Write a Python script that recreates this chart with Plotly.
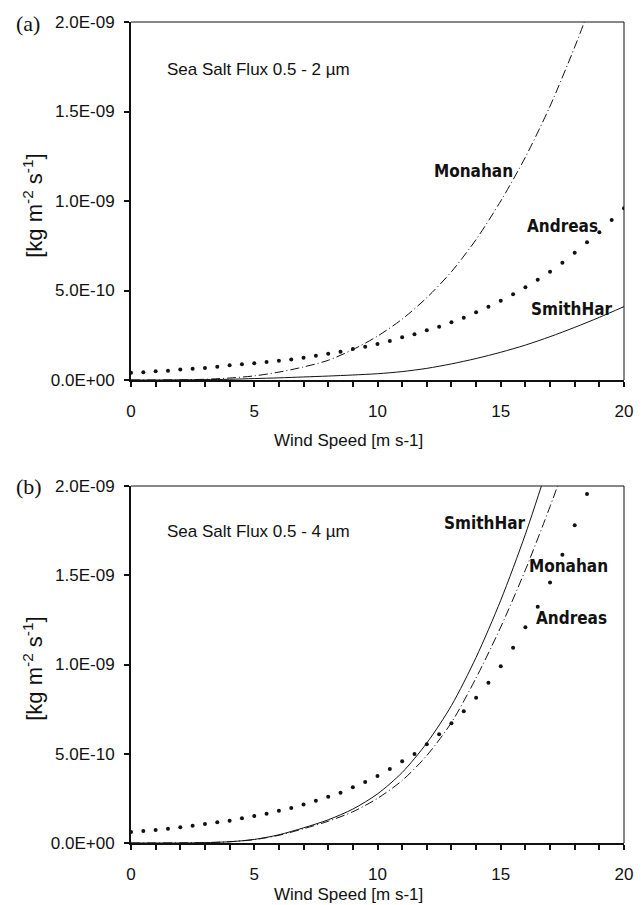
import plotly.graph_objects as go

# ---------------- data (flux in kg m-2 s-1) ----------------
ytick_vals = [0, 0.5e-9, 1.0e-9, 1.5e-9, 2.0e-9]
ytick_text = ["0.0E+00", "5.0E-10", "1.0E-09", "1.5E-09", "2.0E-09"]
xtick_vals = [0, 5, 10, 15, 20]
xtick_text = ["0", "5", "10", "15", "20"]

# Panel (a): 0.5 - 2 um   (values in 1E-09 kg m-2 s-1)
a_andreas_x = [0, 0.5, 1, 1.5, 2, 2.5, 3, 3.5, 4, 4.5, 5, 5.5, 6, 6.5, 7, 7.5, 8, 8.5, 9, 9.5,
               10, 10.5, 11, 11.5, 12, 12.5, 13, 13.5, 14, 14.5, 15, 15.5, 16, 16.5, 17, 17.5,
               18, 18.5, 19, 19.5, 20]
a_andreas_y = [0.040, 0.043, 0.049, 0.052, 0.058, 0.063, 0.067, 0.074, 0.082, 0.088, 0.093, 0.101,
               0.108, 0.115, 0.124, 0.136, 0.147, 0.158, 0.173, 0.186, 0.201, 0.218, 0.239, 0.255,
               0.278, 0.298, 0.322, 0.348, 0.378, 0.409, 0.443, 0.479, 0.518, 0.560, 0.605, 0.655,
               0.711, 0.769, 0.825, 0.894, 0.960]
a_monahan_x = [0, 1, 2, 3, 4, 5, 6, 7, 8, 9, 10, 11, 12, 13, 14, 15, 16, 17, 18, 18.5]
a_monahan_y = [0.0, 0.0001, 0.001, 0.004, 0.011, 0.023, 0.044, 0.073, 0.110, 0.170, 0.245, 0.340,
               0.460, 0.605, 0.785, 1.000, 1.245, 1.530, 1.860, 2.040]
a_smith_x = [0, 1, 2, 3, 4, 5, 6, 7, 8, 9, 10, 11, 12, 13, 14, 15, 16, 17, 18, 19, 20]
a_smith_y = [0.0, 0.0, 0.001, 0.002, 0.004, 0.008, 0.012, 0.017, 0.022, 0.028, 0.035, 0.047, 0.065,
             0.090, 0.120, 0.155, 0.195, 0.242, 0.294, 0.350, 0.410]

# Panel (b): 0.5 - 4 um
b_andreas_x = [0, 0.5, 1, 1.5, 2, 2.5, 3, 3.5, 4, 4.5, 5, 5.5, 6, 6.5, 7, 7.5, 8, 8.5, 9, 9.5,
               10, 10.5, 11, 11.5, 12, 12.5, 13, 13.5, 14, 14.5, 15, 15.5, 16, 16.5, 17, 17.5,
               18, 18.5]
b_andreas_y = [0.062, 0.067, 0.073, 0.080, 0.088, 0.097, 0.106, 0.116, 0.125, 0.138, 0.151, 0.164,
               0.181, 0.196, 0.215, 0.236, 0.259, 0.282, 0.312, 0.342, 0.375, 0.415, 0.458, 0.499,
               0.553, 0.609, 0.671, 0.738, 0.814, 0.898, 0.990, 1.094, 1.208, 1.324, 1.460, 1.615,
               1.780, 1.955]
b_monahan_x = [0, 1, 2, 3, 4, 5, 6, 7, 8, 9, 10, 11, 12, 13, 14, 15, 16, 17, 17.5]
b_monahan_y = [0.0, 0.0, 0.001, 0.002, 0.007, 0.019, 0.043, 0.080, 0.122, 0.175, 0.250, 0.350,
               0.490, 0.675, 0.925, 1.210, 1.530, 1.885, 2.075]
b_smith_x = [0, 1, 2, 3, 4, 5, 6, 7, 8, 9, 10, 11, 12, 13, 14, 15, 16, 17]
b_smith_y = [0.0, 0.0, 0.0, 0.002, 0.007, 0.020, 0.046, 0.085, 0.130, 0.190, 0.275, 0.395, 0.560,
             0.770, 1.040, 1.360, 1.730, 2.150]

E = 1e-9
def sc(v):
    return [x * E for x in v]

INK = "#111111"
LINE_DASH = "9px,3px,1px,3px"

fig = go.Figure()

def add_panel(xa, ya, ax, ay, mx, my, sx, sy):
    fig.add_trace(go.Scatter(x=sx, y=sc(sy), mode="lines",
                             line=dict(color=INK, width=1, shape="spline", smoothing=0.8),
                             xaxis=xa, yaxis=ya, showlegend=False, name="SmithHar"))
    fig.add_trace(go.Scatter(x=mx, y=sc(my), mode="lines",
                             line=dict(color=INK, width=1, dash=LINE_DASH, shape="spline", smoothing=0.8),
                             xaxis=xa, yaxis=ya, showlegend=False, name="Monahan"))
    fig.add_trace(go.Scatter(x=ax, y=sc(ay), mode="markers",
                             marker=dict(color=INK, size=4),
                             xaxis=xa, yaxis=ya, showlegend=False, name="Andreas", cliponaxis=True))

add_panel("x", "y", a_andreas_x, a_andreas_y, a_monahan_x, a_monahan_y, a_smith_x, a_smith_y)
add_panel("x2", "y2", b_andreas_x, b_andreas_y, b_monahan_x, b_monahan_y, b_smith_x, b_smith_y)

FONT = "Liberation Sans, Arial, sans-serif"
LBL = "Liberation Sans Narrow, DejaVu Sans Condensed, Arial Narrow, DejaVu Sans, sans-serif"

def xaxis_cfg(anchor):
    return dict(range=[0, 20], anchor=anchor, tickvals=xtick_vals, ticktext=xtick_text,
                ticks="outside", ticklen=5, tickwidth=1.5, tickcolor=INK,
                minor=dict(dtick=1, ticks="outside", ticklen=5, tickwidth=1.5, tickcolor=INK),
                showline=True, linewidth=2, linecolor=INK, showgrid=False, zeroline=False,
                tickfont=dict(family=FONT, size=17, color=INK), ticklabelstandoff=10)

def yaxis_cfg(anchor, dom):
    return dict(range=[0, 2e-9], anchor=anchor, domain=dom, tickvals=[v for v in ytick_vals],
                ticktext=ytick_text, ticks="outside", ticklen=5, tickwidth=1.5, tickcolor=INK,
                showline=True, linewidth=2, linecolor=INK, showgrid=False, zeroline=False,
                tickfont=dict(family=FONT, size=17, color=INK), ticklabelstandoff=6)

dom_a = [(843 - 380) / 821, 1.0]
dom_b = [0.0, (843 - 486) / 821]

fig.update_layout(
    width=644, height=905,
    margin=dict(l=131, r=11, t=22, b=62),
    paper_bgcolor="white", plot_bgcolor="white",
    xaxis=xaxis_cfg("y"), yaxis=yaxis_cfg("x", dom_a),
    xaxis2=xaxis_cfg("y2"), yaxis2=yaxis_cfg("x2", dom_b),
)

# top / right frame lines (thin)
for xr, yr in (("x domain", "y domain"), ("x2 domain", "y2 domain")):
    fig.add_shape(type="line", xref=xr, yref=yr, x0=0, x1=1, y0=1, y1=1,
                  line=dict(color=INK, width=1))
    fig.add_shape(type="line", xref=xr, yref=yr, x0=1, x1=1, y0=0, y1=1,
                  line=dict(color=INK, width=1))

ann = []
# panel letters
for txt, py in (("(a)", 23), ("(b)", 486)):
    ann.append(dict(text=txt, xref="paper", yref="paper", x=(12 - 131) / 502, y=(843 - py) / 821,
                    xanchor="left", yanchor="middle", showarrow=False,
                    font=dict(family="Liberation Serif, Times New Roman, serif", size=22, color=INK)))
# x axis titles
for py in (440, 894):
    ann.append(dict(text="Wind Speed [m s-1]", xref="paper", yref="paper",
                    x=(352 - 131) / 502, y=(843 - py) / 821, xanchor="center", yanchor="middle",
                    showarrow=False, font=dict(family=FONT, size=17, color=INK)))
# y axis titles
for py in (206, 669):
    ann.append(dict(text="[kg m<sup>-2</sup> s<sup>-1</sup>]", xref="paper", yref="paper",
                    x=(31 - 131) / 502, y=(843 - py) / 821, xanchor="center", yanchor="middle",
                    textangle=-90, showarrow=False, font=dict(family=FONT, size=22, color=INK)))
# in-plot texts
ann.append(dict(text="Sea Salt Flux 0.5 - 2 µm", xref="x", yref="y", x=1.39, y=1.737e-9,
                xanchor="left", yanchor="middle", showarrow=False,
                font=dict(family=FONT, size=17, color=INK)))
ann.append(dict(text="Sea Salt Flux 0.5 - 4 µm", xref="x2", yref="y2", x=1.39, y=1.744e-9,
                xanchor="left", yanchor="middle", showarrow=False,
                font=dict(family=FONT, size=17, color=INK)))

labels = [
    ("Monahan", "x", "y", 13.9, 1.168e-9),
    ("Andreas", "x", "y", 17.49, 0.86e-9),
    ("SmithHar", "x", "y", 17.89, 0.394e-9),
    ("SmithHar", "x2", "y2", 14.37, 1.79e-9),
    ("Monahan", "x2", "y2", 17.75, 1.552e-9),
    ("Andreas", "x2", "y2", 17.89, 1.258e-9),
]
for t, xr, yr, x, y in labels:
    ann.append(dict(text="<b>%s</b>" % t, xref=xr, yref=yr, x=x, y=y, xanchor="center",
                    yanchor="middle", showarrow=False,
                    font=dict(family=LBL, size=17, color=INK)))

fig.update_layout(annotations=ann)
fig.write_html("out.html")
